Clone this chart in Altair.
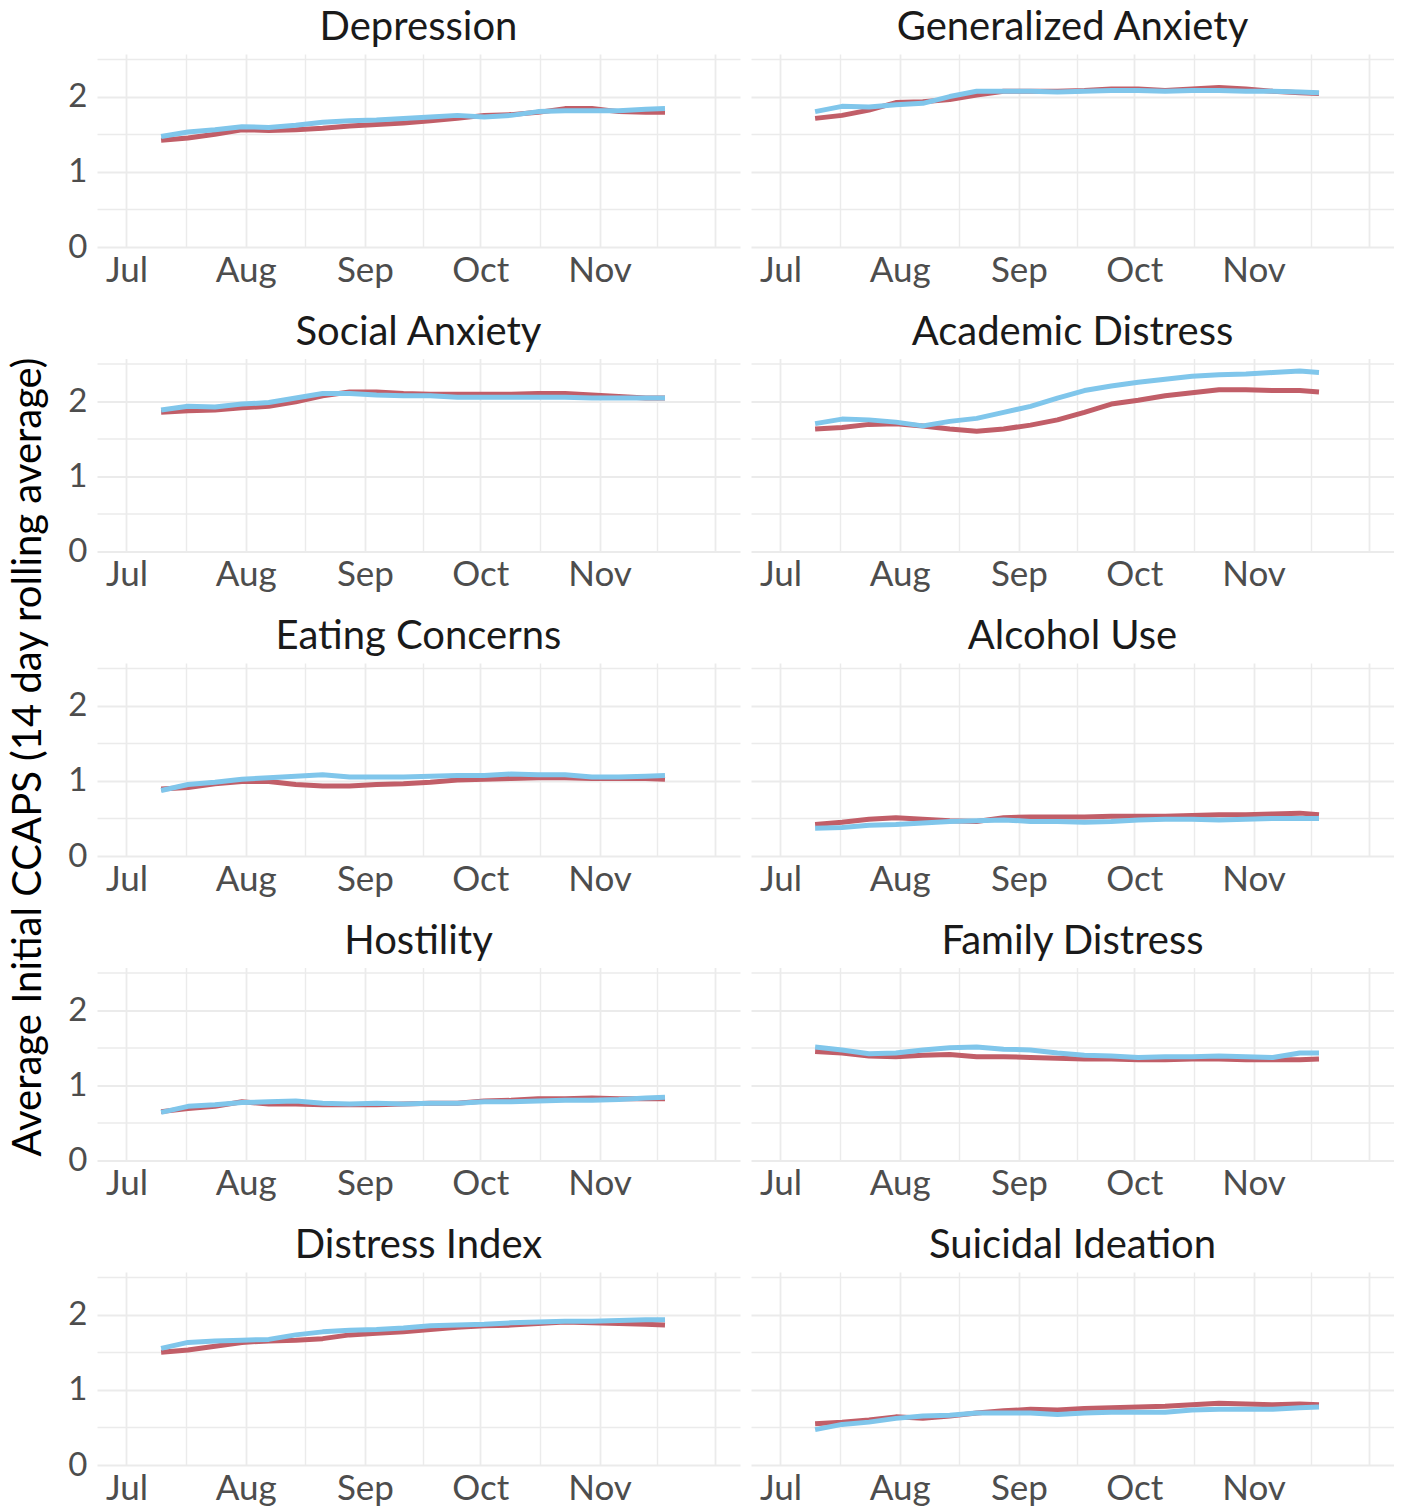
import altair as alt
import pandas as pd

# ---- data (14-day rolling averages) ----
dates = ["2021-07-10", "2021-07-17", "2021-07-24", "2021-07-31", "2021-08-07",
         "2021-08-14", "2021-08-21", "2021-08-28", "2021-09-04", "2021-09-11",
         "2021-09-18", "2021-09-25", "2021-10-02", "2021-10-09", "2021-10-16",
         "2021-10-23", "2021-10-30", "2021-11-06", "2021-11-13", "2021-11-18"]

measures = ["Depression", "Generalized Anxiety", "Social Anxiety", "Academic Distress",
            "Eating Concerns", "Alcohol Use", "Hostility", "Family Distress",
            "Distress Index", "Suicidal Ideation"]

groups = ["Group A", "Group B"]

depression_a = [1.42, 1.45, 1.50, 1.56, 1.55, 1.56, 1.58, 1.61, 1.63, 1.65,
                1.68, 1.71, 1.75, 1.76, 1.79, 1.84, 1.84, 1.80, 1.79, 1.79]
depression_b = [1.47, 1.53, 1.56, 1.60, 1.59, 1.62, 1.66, 1.68, 1.69, 1.71,
                1.73, 1.75, 1.73, 1.75, 1.80, 1.81, 1.81, 1.81, 1.83, 1.84]

gen_anxiety_a = [1.71, 1.75, 1.82, 1.92, 1.93, 1.96, 2.02, 2.07, 2.07, 2.07,
                 2.08, 2.10, 2.10, 2.08, 2.10, 2.12, 2.10, 2.07, 2.05, 2.04]
gen_anxiety_b = [1.80, 1.87, 1.86, 1.89, 1.91, 2.00, 2.07, 2.07, 2.07, 2.06,
                 2.07, 2.08, 2.08, 2.07, 2.08, 2.08, 2.07, 2.07, 2.06, 2.05]

soc_anxiety_a = [1.85, 1.87, 1.88, 1.91, 1.93, 1.99, 2.07, 2.12, 2.12, 2.10,
                 2.09, 2.09, 2.09, 2.09, 2.10, 2.10, 2.08, 2.06, 2.04, 2.04]
soc_anxiety_b = [1.88, 1.93, 1.92, 1.96, 1.98, 2.04, 2.10, 2.10, 2.08, 2.07,
                 2.07, 2.05, 2.05, 2.05, 2.05, 2.05, 2.04, 2.04, 2.04, 2.04]

academic_a = [1.63, 1.65, 1.69, 1.70, 1.67, 1.63, 1.60, 1.63, 1.68, 1.75,
              1.85, 1.96, 2.01, 2.07, 2.11, 2.15, 2.15, 2.14, 2.14, 2.12]
academic_b = [1.70, 1.76, 1.75, 1.72, 1.67, 1.73, 1.77, 1.85, 1.93, 2.04,
              2.14, 2.20, 2.25, 2.29, 2.33, 2.35, 2.36, 2.38, 2.40, 2.38]

eating_a = [0.89, 0.91, 0.96, 0.99, 0.99, 0.95, 0.93, 0.93, 0.95, 0.96,
            0.98, 1.01, 1.02, 1.03, 1.04, 1.04, 1.03, 1.03, 1.03, 1.02]
eating_b = [0.87, 0.95, 0.98, 1.02, 1.04, 1.06, 1.08, 1.05, 1.05, 1.05,
            1.06, 1.07, 1.07, 1.09, 1.08, 1.08, 1.05, 1.05, 1.06, 1.07]

alcohol_a = [0.42, 0.45, 0.49, 0.51, 0.49, 0.47, 0.46, 0.51, 0.52, 0.52,
             0.52, 0.53, 0.53, 0.53, 0.54, 0.55, 0.55, 0.56, 0.57, 0.55]
alcohol_b = [0.37, 0.38, 0.41, 0.42, 0.44, 0.46, 0.47, 0.48, 0.46, 0.46,
             0.45, 0.46, 0.48, 0.49, 0.49, 0.48, 0.49, 0.50, 0.50, 0.50]

hostility_a = [0.65, 0.69, 0.72, 0.78, 0.75, 0.75, 0.74, 0.74, 0.74, 0.75,
               0.76, 0.76, 0.79, 0.80, 0.82, 0.82, 0.83, 0.82, 0.82, 0.82]
hostility_b = [0.64, 0.72, 0.74, 0.77, 0.78, 0.79, 0.76, 0.75, 0.76, 0.75,
               0.76, 0.76, 0.78, 0.78, 0.79, 0.80, 0.80, 0.81, 0.83, 0.84]

family_a = [1.45, 1.43, 1.39, 1.38, 1.40, 1.41, 1.38, 1.38, 1.37, 1.36,
            1.35, 1.35, 1.34, 1.34, 1.35, 1.35, 1.34, 1.34, 1.34, 1.35]
family_b = [1.51, 1.47, 1.42, 1.43, 1.47, 1.50, 1.51, 1.48, 1.47, 1.43,
            1.40, 1.39, 1.37, 1.38, 1.38, 1.39, 1.38, 1.37, 1.43, 1.43]

distress_a = [1.50, 1.53, 1.58, 1.63, 1.65, 1.66, 1.68, 1.73, 1.75, 1.77,
              1.80, 1.83, 1.85, 1.86, 1.88, 1.90, 1.89, 1.88, 1.87, 1.86]
distress_b = [1.55, 1.63, 1.65, 1.66, 1.67, 1.73, 1.77, 1.79, 1.80, 1.82,
              1.85, 1.86, 1.87, 1.89, 1.90, 1.91, 1.91, 1.92, 1.93, 1.93]

suicidal_a = [0.55, 0.57, 0.60, 0.64, 0.62, 0.65, 0.69, 0.72, 0.74, 0.73,
              0.75, 0.76, 0.77, 0.78, 0.80, 0.82, 0.81, 0.80, 0.81, 0.80]
suicidal_b = [0.47, 0.54, 0.57, 0.62, 0.65, 0.66, 0.69, 0.69, 0.69, 0.67,
              0.69, 0.70, 0.70, 0.70, 0.73, 0.74, 0.74, 0.74, 0.76, 0.77]

series = {
    "Depression": (depression_a, depression_b),
    "Generalized Anxiety": (gen_anxiety_a, gen_anxiety_b),
    "Social Anxiety": (soc_anxiety_a, soc_anxiety_b),
    "Academic Distress": (academic_a, academic_b),
    "Eating Concerns": (eating_a, eating_b),
    "Alcohol Use": (alcohol_a, alcohol_b),
    "Hostility": (hostility_a, hostility_b),
    "Family Distress": (family_a, family_b),
    "Distress Index": (distress_a, distress_b),
    "Suicidal Ideation": (suicidal_a, suicidal_b),
}

rows = []
for m in measures:
    for gi, g in enumerate(groups):
        for d, v in zip(dates, series[m][gi]):
            rows.append({"measure": m, "group": g, "gorder": gi,
                         "date": d + "T00:00:00", "value": v})
df = pd.DataFrame(rows)

RED = "#C15E68"
BLUE = "#80C6EB"
FONT = "Lato"

x_grid = [alt.DateTime(year=2021, month=mm, date=dd, hours=hh) for mm, dd, hh in
          [(7, 1, 0), (7, 16, 12), (8, 1, 0), (8, 16, 12), (9, 1, 0), (9, 16, 0),
           (10, 1, 0), (10, 16, 12), (11, 1, 0), (11, 16, 0), (12, 1, 0)]]

x_axis = alt.Axis(
    values=x_grid,
    labelExpr="date(datum.value) == 1 && hours(datum.value) == 0 && month(datum.value) <= 10 ? timeFormat(datum.value, '%b') : ''",
    title=None, ticks=False, domain=False, grid=True,
    gridColor="#EBEBEB",
    gridWidth={"condition": {"test": "date(datum.value) == 1", "value": 1.8}, "value": 1.4},
    labelFontSize=35, labelColor="#4D4D4D", labelFont=FONT, labelPadding=6,
    labelOverlap=False, labelFlush=False,
)

y_axis = alt.Axis(
    values=[0, 0.5, 1, 1.5, 2, 2.5],
    labelExpr="(datum.value == 0 || datum.value == 1 || datum.value == 2) ? format(datum.value, 'd') : ''",
    title=None, ticks=False, domain=False, grid=True,
    gridColor="#EBEBEB",
    gridWidth={"condition": {"test": "datum.value % 1 == 0", "value": 2}, "value": 1.4},
    labelFontSize=33, labelColor="#4D4D4D", labelFont=FONT, labelPadding=10,
    labelOverlap=False,
)

base = alt.Chart(df).mark_line(strokeWidth=5, strokeCap="butt", strokeJoin="round").encode(
    x=alt.X("date:T", axis=x_axis,
            scale=alt.Scale(domain=[alt.DateTime(year=2021, month=6, date=23, hours=8),
                                    alt.DateTime(year=2021, month=12, date=7, hours=12)])),
    y=alt.Y("value:Q", axis=y_axis, scale=alt.Scale(domain=[0, 2.566], nice=False)),
    color=alt.Color("group:N", scale=alt.Scale(domain=groups, range=[RED, BLUE]), legend=None),
    order=alt.Order("gorder:Q"),
).properties(width=643, height=193)

chart = base.facet(
    facet=alt.Facet("measure:N", sort=measures,
                    header=alt.Header(title=None, labelFontSize=40, labelColor="#1A1A1A",
                                      labelFont=FONT, labelPadding=6)),
    columns=2,
    spacing={"row": 24.5, "column": 11},
).resolve_axis(x="independent").properties(
    title=alt.TitleParams("Average Initial CCAPS (14 day rolling average)", orient="left",
                          anchor="middle", fontSize=40, font=FONT, fontWeight="normal",
                          color="#000000", offset=19),
    padding={"left": 0, "top": 0, "right": 0, "bottom": 0},
).configure_view(stroke=None)

chart.save("out.html", embed_options={"renderer": "svg", "actions": False})
